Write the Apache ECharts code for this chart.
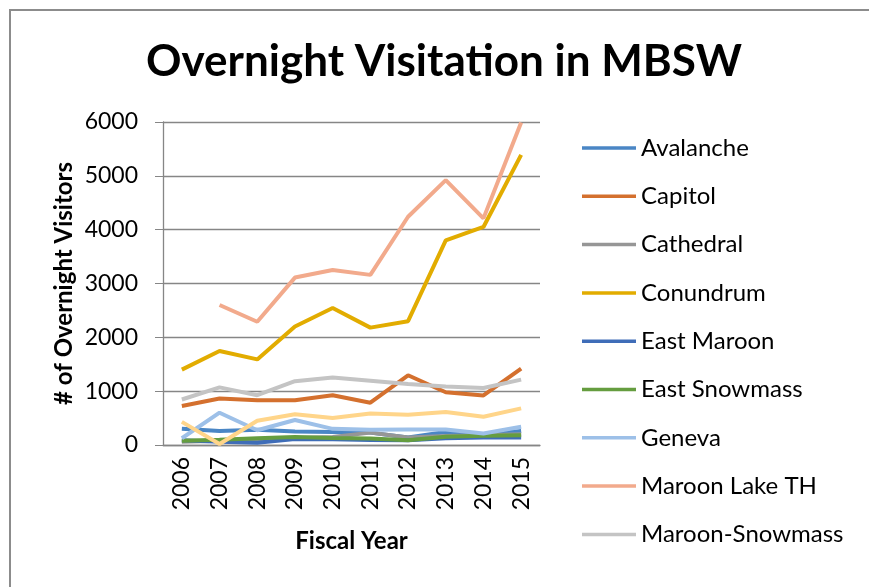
<!DOCTYPE html>
<html>
<head>
<meta charset="utf-8">
<script src="https://cdn.jsdelivr.net/npm/echarts@6/dist/echarts.min.js"></script>
<style>
  html, body { margin: 0; padding: 0; background: #fff; }
  #chart { width: 869px; height: 587px; }
</style>
</head>
<body>
<div id="chart"></div>
<script>
// fiscal years
var years = ['2006', '2007', '2008', '2009', '2010', '2011', '2012', '2013', '2014', '2015'];

// overnight visitors per site
var avalanche = [300, 260, 285, 250, 240, 230, 140, 240, 190, 260];
var capitol = [725, 865, 830, 830, 925, 785, 1295, 980, 920, 1420];
var cathedral = [60, 80, 100, 130, 150, 230, 140, 165, 180, 200];
var conundrum = [1400, 1745, 1590, 2200, 2545, 2180, 2300, 3800, 4050, 5390];
var eastMaroon = [90, 60, 40, 110, 105, 95, 90, 125, 140, 140];
var eastSnowmass = [80, 97, 125, 150, 130, 120, 90, 155, 170, 180];
var geneva = [125, 600, 275, 465, 300, 285, 290, 290, 215, 340];
var maroonLake = ['-', 2600, 2290, 3110, 3250, 3160, 4240, 4920, 4210, 5990];
var maroonSnowmass = [845, 1070, 925, 1185, 1255, 1195, 1135, 1085, 1060, 1215];
var other = [430, 20, 450, 570, 500, 585, 560, 615, 525, 680];

var names = ['Avalanche', 'Capitol', 'Cathedral', 'Conundrum', 'East Maroon',
  'East Snowmass', 'Geneva', 'Maroon Lake TH', 'Maroon-Snowmass'];
var colors = ['#4a86c5', '#d4702e', '#969696', '#e2ac00', '#3f6db8',
  '#659d3f', '#9dc0e8', '#f2aa8c', '#c4c4c4', '#ffd58a'];
var seriesData = [avalanche, capitol, cathedral, conundrum, eastMaroon,
  eastSnowmass, geneva, maroonLake, maroonSnowmass, other];

var font = 'Lato';
var chart = echarts.init(document.getElementById('chart'));

var series = seriesData.map(function (d, i) {
  return {
    name: names[i] || 'Other',
    type: 'line',
    data: d,
    symbol: 'none',
    color: colors[i],
    lineStyle: { width: 4, color: colors[i] },
    emphasis: { disabled: true }
  };
});

chart.setOption({
  animation: false,
  graphic: [
    {
      type: 'rect',
      shape: { x: 10, y: 10, width: 880, height: 600 },
      style: { fill: 'none', stroke: '#8c8c8c', lineWidth: 2 }
    },
    {
      type: 'text',
      x: 444,
      y: 62,
      style: {
        text: 'Overnight Visitation in MBSW',
        font: 'bold 44px Lato',
        fill: '#000',
        textAlign: 'center',
        textVerticalAlign: 'middle'
      }
    }
  ],
  legend: {
    data: names,
    orient: 'vertical',
    left: 582,
    top: 136,
    padding: 0,
    itemWidth: 54,
    itemHeight: 24,
    itemGap: 24.3,
    textStyle: { fontFamily: font, fontSize: 24, color: '#000', padding: [0, 0, 0, 0] },
    icon: 'path://M0,0 L54,0 L54,3.5 L0,3.5 Z',
    selectedMode: false
  },
  grid: {
    left: 163,
    right: 329,
    top: 122,
    bottom: 142
  },
  xAxis: {
    type: 'category',
    data: years,
    boundaryGap: true,
    name: 'Fiscal Year',
    nameLocation: 'middle',
    nameGap: 84,
    nameTextStyle: { fontFamily: font, fontSize: 24, fontWeight: 'bold', color: '#000' },
    axisLine: { lineStyle: { color: '#868686', width: 1.3 } },
    axisTick: { show: false },
    axisLabel: { rotate: 90, margin: 12, fontFamily: font, fontSize: 23, color: '#000' }
  },
  yAxis: {
    type: 'value',
    min: 0,
    max: 6000,
    interval: 1000,
    name: '# of Overnight Visitors',
    nameLocation: 'middle',
    nameGap: 87,
    nameRotate: 90,
    nameTextStyle: { fontFamily: font, fontSize: 24, fontWeight: 'bold', color: '#000' },
    axisLine: { show: true, lineStyle: { color: '#868686', width: 1.3 } },
    axisTick: { show: true, inside: false, length: 8, lineStyle: { color: '#868686' } },
    axisLabel: {
      margin: 25,
      fontFamily: font,
      fontSize: 23,
      color: '#000',
      formatter: function (v) { return String(v); }
    },
    splitLine: { lineStyle: { color: '#868686', width: 1.3 } }
  },
  series: series
});
</script>
</body>
</html>
